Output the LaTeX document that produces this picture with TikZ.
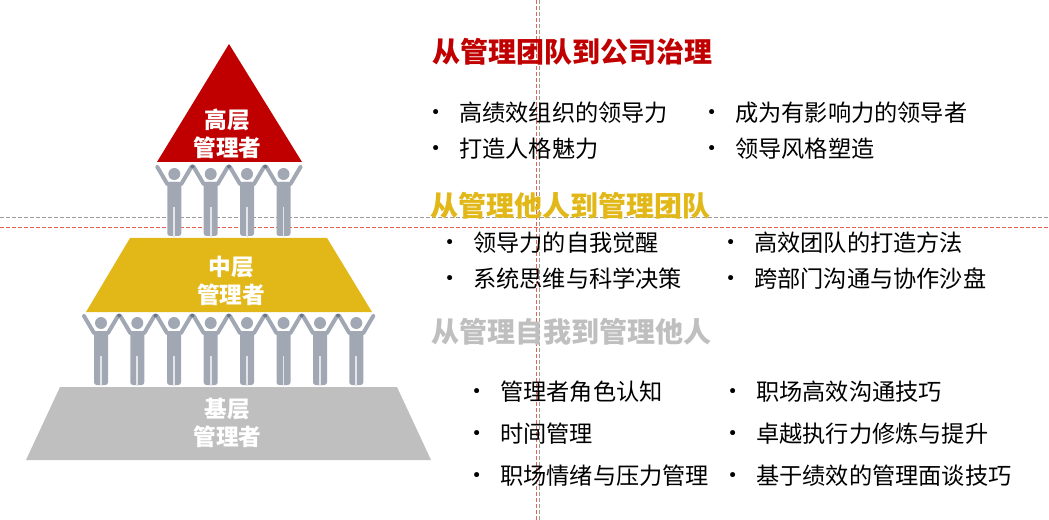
\documentclass[tikz,border=0pt]{standalone}
\usepackage{fontspec}
\setmainfont{Noto Sans CJK SC}
\newfontfamily\bulletfont{DejaVu Sans}
\usepackage{tikz}
\definecolor{topred}{HTML}{C00000}
\definecolor{midyellow}{HTML}{E2B718}
\definecolor{basegray}{HTML}{BFBFBF}
\definecolor{personblue}{HTML}{A1A8B3}
\definecolor{handblue}{HTML}{69778A}
\definecolor{guidered}{HTML}{E8604C}
\definecolor{guidegray}{HTML}{9C9C9C}

\begin{document}
\begin{tikzpicture}[
                    x=0.75pt, y=-0.75pt,
                    guide gray/.style={guidegray, line width=0.75pt, dash pattern=on 3pt off 1.5pt},
                    guide red/.style={guidered, line width=0.75pt, dash pattern=on 3pt off 1.5pt},
                    level text/.style={
                        text=white,
                        align=center,
                        inner sep=0pt,
                        font=\bfseries\fontsize{17pt}{21pt}\selectfont
                    },
                    title text/.style={
                        anchor=west,
                        inner sep=0pt,
                        font=\bfseries\fontsize{21pt}{25pt}\selectfont
                    },
                    entry text/.style={
                        anchor=west,
                        inner sep=0pt,
                        font=\fontsize{17.4pt}{21pt}\selectfont,
                        label={[inner sep=0pt, label distance=13.5pt, yshift=-1pt, font=\bulletfont\fontsize{13pt}{15pt}\selectfont]left:•}
                    },
                    person/.pic={
                        \fill[personblue] (0,0) circle (6);
                        \draw[personblue, line width=3pt, line cap=round, line join=round] (-17,-7) -- (-7,10) -- (7,10) -- (17,-7);
                        \fill[personblue, rounded corners=2pt] (-7,8) -- (7,8) -- (7,62) -- (-7,62) -- cycle;
                        \draw[white!70!personblue, line width=1.4pt] (0,33) -- (0,63);
                    }
                ]
    \useasboundingbox (0,0) rectangle (1049,520);

    % guide lines
    \draw[guide gray] (0,217.5) -- (1049,217.5);
    \draw[guide red] (0,227.5) -- (1049,227.5);
    \draw[guide red] (536.5,0) -- (536.5,520);
    \draw[guide gray] (539.5,0) -- (539.5,520);

    % pyramid
    \fill[topred] (229,44) -- (302,162) -- (157,162) -- cycle;
    \fill[midyellow] (130,238) -- (327,238) -- (372,312) -- (86,312) -- cycle;
    \fill[basegray] (60,387) -- (397,387) -- (431,460) -- (26,460) -- cycle;

    % people
    \foreach \px in {174.3,210.7,247,283.5}
        \pic at (\px,174) {person};
    \foreach \px in {101,137.3,174,210.7,247,283.5,320,356.3}
        \pic at (\px,323) {person};
    \foreach \px in {192.5,229,265.2}
        \fill[handblue] (\px,166.5) circle (2);
    \foreach \px in {119.2,155.6,192.3,228.8,265.2,301.7,338.1}
        \fill[handblue] (\px,315.5) circle (2);

    \node[level text] (top level) at (227.5,134) {高层\\管理者};
    \node[level text] (mid level) at (231,281) {中层\\管理者};
    \node[level text] (base level) at (227.5,423) {基层\\管理者};

    % titles
    \node[title text, text=topred] (top title) at (432,52) {从管理团队到公司治理};
    \node[title text, text=midyellow] (mid title) at (430,206) {从管理他人到管理团队};
    \node[title text, text=basegray] (base title) at (431,332) {从管理自我到管理他人};

    % top entries
    \node[entry text] (top a) at (459,113) {高绩效组织的领导力};
    \node[entry text] (top b) at (735,113) {成为有影响力的领导者};
    \node[entry text] (top c) at (459,149) {打造人格魅力};
    \node[entry text] (top d) at (735,149) {领导风格塑造};

    % middle entries
    \node[entry text] (mid a) at (473,242.5) {领导力的自我觉醒};
    \node[entry text] (mid b) at (754,242.5) {高效团队的打造方法};
    \node[entry text] (mid c) at (473,278.5) {系统思维与科学决策};
    \node[entry text] (mid d) at (754,278.5) {跨部门沟通与协作沙盘};

    % base entries
    \node[entry text] (base a) at (500,392) {管理者角色认知};
    \node[entry text] (base b) at (756,392) {职场高效沟通技巧};
    \node[entry text] (base c) at (500,434) {时间管理};
    \node[entry text] (base d) at (756,434) {卓越执行力修炼与提升};
    \node[entry text] (base e) at (500,476) {职场情绪与压力管理};
    \node[entry text] (base f) at (756,476) {基于绩效的管理面谈技巧};
\end{tikzpicture}
\end{document}
